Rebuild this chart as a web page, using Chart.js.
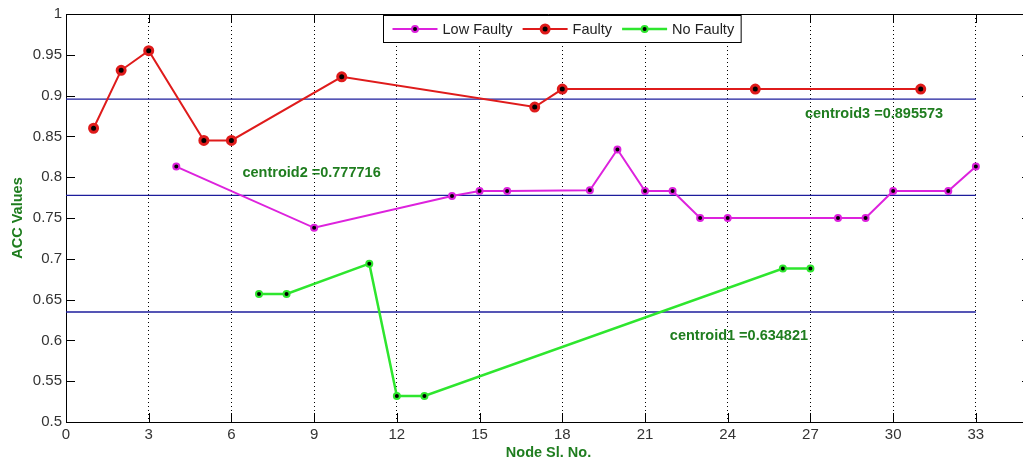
<!DOCTYPE html>
<html>
<head>
<meta charset="utf-8">
<title>ACC Values per Node</title>
<script src="https://cdn.jsdelivr.net/npm/chart.js@4.4.1/dist/chart.umd.min.js"></script>
<style>
    html, body { margin: 0; padding: 0; background: #fff; }
    /* the right side of the plot box is cut off in the original picture */
    #frame { width: 1023px; height: 462px; overflow: hidden; }
    #wrap { width: 1038px; height: 462px; }
</style>
</head>
<body>
<div id="frame"><div id="wrap"><canvas id="acc-chart"></canvas></div></div>
<script>
// Axis ticks
const nodeTicks = [0, 3, 6, 9, 12, 15, 18, 21, 24, 27, 30, 33];
const accTicks = [0.5, 0.55, 0.6, 0.65, 0.7, 0.75, 0.8, 0.85, 0.9, 0.95, 1];

// Series (node number / ACC value)
const lowNodes = [4, 9, 14, 15, 16, 19, 20, 21, 22, 23, 24, 28, 29, 30, 32, 33];
const lowAcc = [0.813, 0.738, 0.777, 0.783, 0.783, 0.784, 0.834, 0.783, 0.783, 0.75, 0.75, 0.75, 0.75, 0.783, 0.783, 0.813];

const faultyNodes = [1, 2, 3, 5, 6, 10, 17, 18, 25, 31];
const faultyAcc = [0.86, 0.931, 0.955, 0.845, 0.845, 0.923, 0.886, 0.908, 0.908, 0.908];

const noNodes = [7, 8, 11, 12, 13, 26, 27];
const noAcc = [0.657, 0.657, 0.694, 0.532, 0.532, 0.688, 0.688];

// Cluster centroids, drawn as lines from node 0 to node 33
const centroids = [0.634821, 0.777716, 0.895573];
const centroidSpan = [0, 33];
const centroidNotes = ["centroid1 =0.634821", "centroid2 =0.777716", "centroid3 =0.895573"];
const centroidNoteAt = [[21.9, 0.606], [6.4, 0.805], [26.8, 0.877]];

const FONT = '"Liberation Sans", Arial, sans-serif';
const textGreen = "#1f7d1f";
const TICK_LEN = 9;

function points(xs, ys) {
    return xs.map((x, i) => ({ x: x, y: ys[i] }));
}

function series(label, xs, ys, color, lineWidth, radius, ring) {
    return {
        label: label,
        data: points(xs, ys),
        borderColor: color,
        borderWidth: lineWidth,
        pointRadius: radius,
        pointBorderWidth: ring,
        pointBackgroundColor: "#000",
        pointBorderColor: color,
        inLegend: true,
        order: 1
    };
}

const datasets = [
    series("Low Faulty", lowNodes, lowAcc, "#dd22dd", 2, 3, 2),
    series("Faulty", faultyNodes, faultyAcc, "#df1b1b", 2, 4, 3),
    series("No Faulty", noNodes, noAcc, "#2ee62e", 2.5, 3, 2)
];

centroids.forEach(c => {
    datasets.push({
        data: centroidSpan.map(x => ({ x: x, y: c })),
        borderColor: "#1c1c9c",
        borderWidth: 1.3,
        pointRadius: 0,
        inLegend: false,
        order: 5
    });
});

// Box, inward ticks, centroid notes and legend in the MATLAB look
const matlabLook = {
    id: "matlabLook",
    afterDraw(chart) {
        const { ctx, chartArea: a, scales: { x, y } } = chart;
        ctx.save();

        ctx.strokeStyle = "#000";
        ctx.lineWidth = 1;
        ctx.beginPath();
        ctx.moveTo(a.left, a.top + 0.5);
        ctx.lineTo(a.right - 0.5, a.top + 0.5);
        ctx.lineTo(a.right - 0.5, a.bottom);
        x.ticks.forEach(t => {
            const px = Math.round(x.getPixelForValue(t.value)) + 0.5;
            ctx.moveTo(px, a.bottom);
            ctx.lineTo(px, a.bottom - TICK_LEN);
            ctx.moveTo(px, a.top);
            ctx.lineTo(px, a.top + TICK_LEN);
        });
        y.ticks.forEach(t => {
            const py = Math.round(y.getPixelForValue(t.value)) + 0.5;
            ctx.moveTo(a.left, py);
            ctx.lineTo(a.left + TICK_LEN, py);
            ctx.moveTo(a.right, py);
            ctx.lineTo(a.right - TICK_LEN, py);
        });
        ctx.stroke();

        // centroid labels
        ctx.font = "bold 14.5px " + FONT;
        ctx.fillStyle = textGreen;
        ctx.textBaseline = "middle";
        ctx.textAlign = "left";
        centroidNotes.forEach((txt, i) => {
            const at = centroidNoteAt[i];
            ctx.fillText(txt, x.getPixelForValue(at[0]), y.getPixelForValue(at[1]));
        });

        // legend
        const items = chart.data.datasets.filter(d => d.inLegend);
        const box = { left: 383.5, top: 15.5, height: 27 };
        const lineLen = 45, pad = 9, gap = 10;
        ctx.font = "14.5px " + FONT;
        let width = pad;
        items.forEach((d, i) => {
            width += lineLen + 5 + ctx.measureText(d.label).width + (i < items.length - 1 ? gap : 7);
        });
        ctx.fillStyle = "#fff";
        ctx.fillRect(box.left, box.top, width, box.height);
        ctx.strokeRect(box.left, box.top, width, box.height);

        const cy = box.top + box.height / 2;
        let cx = box.left + pad;
        items.forEach(d => {
            ctx.strokeStyle = d.borderColor;
            ctx.lineWidth = d.borderWidth;
            ctx.beginPath();
            ctx.moveTo(cx, cy);
            ctx.lineTo(cx + lineLen, cy);
            ctx.stroke();
            ctx.beginPath();
            ctx.arc(cx + lineLen / 2, cy, d.pointRadius, 0, Math.PI * 2);
            ctx.fillStyle = "#000";
            ctx.fill();
            ctx.lineWidth = d.pointBorderWidth;
            ctx.strokeStyle = d.pointBorderColor;
            ctx.stroke();
            cx += lineLen + 5;
            ctx.fillStyle = "#222";
            ctx.fillText(d.label, cx, cy + 1);
            cx += ctx.measureText(d.label).width + gap;
        });

        ctx.restore();
    }
};

const tickFont = { family: FONT, size: 15 };
const titleFont = { family: FONT, size: 14.5, weight: "bold" };

new Chart(document.getElementById("acc-chart"), {
    type: "line",
    data: { datasets: datasets },
    options: {
        responsive: true,
        maintainAspectRatio: false,
        animation: false,
        layout: { padding: { top: 14, left: 0, right: 0, bottom: 0 } },
        elements: { line: { tension: 0, fill: false } },
        plugins: {
            legend: { display: false },
            tooltip: { enabled: false }
        },
        scales: {
            x: {
                type: "linear",
                min: 0,
                max: 35,
                afterBuildTicks: s => { s.ticks = nodeTicks.map(v => ({ value: v })); },
                afterFit: s => { s.height = 40; },
                grid: { color: "#000", lineWidth: 1, drawTicks: false },
                border: { display: true, color: "#000", width: 1, dash: [1, 3] },
                ticks: {
                    padding: 4,
                    color: "#333",
                    font: tickFont,
                    autoSkip: false,
                    maxRotation: 0,
                    callback: v => String(v)
                },
                title: {
                    display: true,
                    text: "Node Sl. No.",
                    color: textGreen,
                    font: titleFont,
                    padding: { top: 0, bottom: 0 }
                }
            },
            y: {
                type: "linear",
                min: 0.5,
                max: 1,
                afterBuildTicks: s => { s.ticks = accTicks.map(v => ({ value: v })); },
                afterFit: s => { s.width = 66; },
                grid: { drawOnChartArea: false, drawTicks: false },
                border: { display: true, color: "#000", width: 1 },
                ticks: {
                    padding: 4,
                    color: "#333",
                    font: tickFont,
                    callback: v => String(+v.toFixed(2))
                },
                title: {
                    display: true,
                    text: "ACC Values",
                    color: textGreen,
                    font: titleFont,
                    padding: { top: 9, bottom: 0 }
                }
            }
        }
    },
    plugins: [matlabLook]
});
</script>
</body>
</html>
